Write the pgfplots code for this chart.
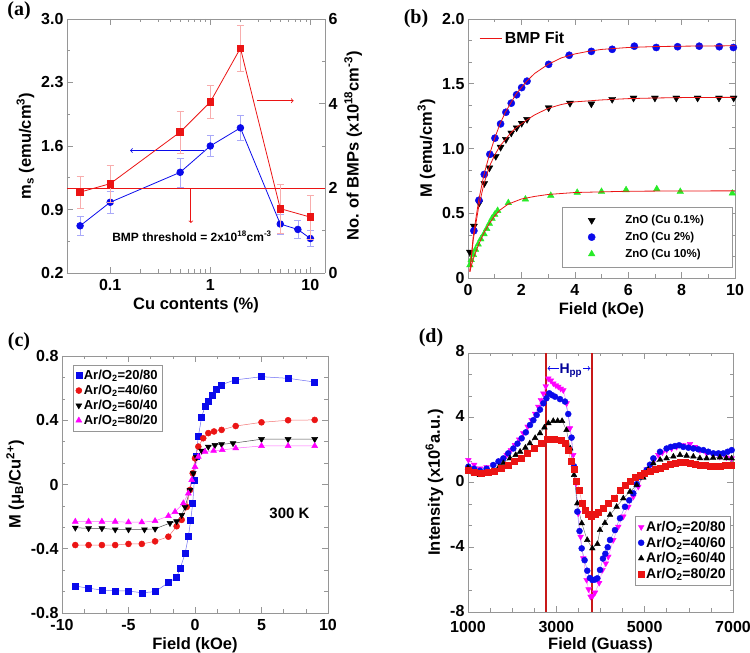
\documentclass[border=0pt]{standalone}
\usepackage{fontspec}
\setmainfont{Liberation Sans}
\newfontfamily\panelfont{Liberation Serif}
\usepackage{pgfplots}
\pgfplotsset{compat=1.18}
\definecolor{fgray}{RGB}{150,150,150}
\definecolor{cblue}{RGB}{10,10,235}
\definecolor{cred}{RGB}{235,20,20}
\definecolor{cgreen}{RGB}{40,235,40}
\definecolor{cmag}{RGB}{255,0,255}
\definecolor{dred}{RGB}{200,25,25}
\newcommand{\tfont}{\fontsize{16}{16}\selectfont\bfseries}
\newcommand{\lfont}{\fontsize{16.5}{19}\selectfont\bfseries}
\pgfplotsset{
  panel/.style={
    scale only axis, anchor=south west,
    axis line style={fgray, line width=0.8pt},
    every tick/.style={fgray, line width=0.6pt},
    tick align=inside,
    major tick length=6pt, minor tick length=3.5pt,
    tick label style={font=\tfont, black},
    xticklabel style={yshift=-2.5pt},
    label style={font=\lfont},
    legend cell align=left,
    legend image code/.code={\draw[only marks,mark repeat=2,mark phase=2,##1] plot coordinates {(0cm,0cm) (0.15cm,0cm) (0.3cm,0cm)};},
  }
}
\begin{document}
\begin{tikzpicture}

% ---------------- (a) ----------------
\begin{axis}[panel, at={(67pt,380pt)}, width=258pt, height=254pt,
  xmode=log, xmin=0.037, xmax=14, ymin=0.2, ymax=3.0,
  axis y line*=left, y axis line style={-},
  xtick={0.1,1,10}, xticklabels={0.1,1,10},
  ytick={0.2,0.9,1.6,2.3,3.0}, yticklabels={0.2,0.9,1.6,2.3,3.0},
  minor ytick={0.55,1.25,1.95,2.65},
  xlabel={Cu contents (\%)},
  ylabel={m\textsubscript{s} (emu/cm\textsuperscript{3})},
]
\addplot[cblue, line width=0.8pt, mark=*, mark size=3.3pt, mark options={solid, fill=cblue},
  error bars/.cd, y dir=both, y explicit,
  error bar style={cblue!35, line width=0.6pt},
  error mark options={rotate=90, mark size=3.5pt, cblue!35}]
coordinates {
(0.05,0.72) +- (0,0.107)
(0.1,0.98) +- (0,0.12)
(0.5,1.31) +- (0,0.16)
(1,1.60) +- (0,0.115)
(2,1.80) +- (0,0.14)
(5,0.74) +- (0,0.11)
(7.5,0.68) +- (0,0.10)
(10,0.58) +- (0,0.09)
};
\draw[->, cblue, line width=0.8pt] (axis cs:0.86,1.55) -- (axis cs:0.158,1.55);
\end{axis}
\begin{axis}[panel, at={(67pt,380pt)}, width=258pt, height=254pt,
  xmode=log, xmin=0.037, xmax=14, ymin=0, ymax=6,
  axis y line*=right, y axis line style={-}, axis x line=none,
  ytick={0,2,4,6}, yticklabels={0,2,4,6}, minor ytick={1,3,5},
  ylabel={No. of BMPs (x10\textsuperscript{18}cm\textsuperscript{-3})},
]
\addplot[cred, line width=1pt, forget plot] coordinates {(0.037,2) (14,2)};
\addplot[cred, line width=0.8pt, mark=square*, mark size=3.3pt, mark options={solid, fill=cred},
  error bars/.cd, y dir=both, y explicit,
  error bar style={cred!35, line width=0.6pt},
  error mark options={rotate=90, mark size=3.5pt, cred!35}]
coordinates {
(0.05,1.91) +- (0,0.37)
(0.1,2.11) +- (0,0.43)
(0.5,3.33) +- (0,0.49)
(1,4.04) +- (0,0.39)
(2,5.31) +- (0,0.54)
(5,1.52) +- (0,0.58)
(10,1.32) +- (0,0.52)
};
\draw[->, cred, line width=0.8pt] (axis cs:2.93,4.07) -- (axis cs:6.8,4.07);
\draw[->, cred, line width=0.8pt] (axis cs:0.64,2) -- (axis cs:0.64,1.18);
\node[font=\fontsize{12}{12}\selectfont\bfseries] at (axis cs:0.656,0.865) {BMP threshold = 2x10\textsuperscript{18}cm\textsuperscript{-3}};
\end{axis}

% ---------------- (b) ----------------
\begin{axis}[panel, at={(468pt,375pt)}, width=267pt, height=259pt,
  xmin=0, xmax=10, ymin=0, ymax=2,
  xtick={0,2,4,6,8,10}, xticklabels={0,2,4,6,8,10},
  ytick={0,0.5,1,1.5,2}, yticklabels={0,0.5,1.0,1.5,2.0},
  minor x tick num=1, minor y tick num=2,
  xlabel={Field (kOe)}, ylabel={M (emu/cm\textsuperscript{3})},
  legend style={at={(0.989,0.042)}, anchor=south east, draw=fgray,
    font=\fontsize{11.5}{13}\selectfont\bfseries, inner xsep=26pt, inner ysep=6pt,
    row sep=3pt,
    /tikz/every odd column/.style={column sep=28pt}},
]
\addplot[only marks, mark=triangle*, mark size=4pt, mark options={rotate=180, fill=black}, black] coordinates {
(0.07,0.2) (0.22,0.40) (0.42,0.58) (0.61,0.73) (0.8,0.85) (1.04,0.94) (1.22,1.01) (1.42,1.07)
(1.62,1.12) (1.82,1.16) (2.01,1.195) (2.21,1.225) (3.02,1.315) (3.82,1.35) (4.62,1.345)
(5.4,1.38) (6.2,1.39) (7.0,1.39) (7.8,1.39) (8.6,1.39) (9.4,1.39) (9.95,1.39)
};
\addlegendentry{ZnO (Cu 0.1\%)}
\addplot[only marks, mark=*, mark size=3.6pt, cblue, mark options={fill=cblue}] coordinates {
(0.22,0.365) (0.41,0.60) (0.61,0.80) (0.82,0.955) (1.01,1.08) (1.22,1.19) (1.42,1.28)
(1.62,1.35) (1.82,1.415) (2.01,1.47) (2.21,1.52) (3.02,1.65) (3.79,1.72) (4.62,1.75)
(5.40,1.766) (6.23,1.79) (7.05,1.78) (7.85,1.786) (8.66,1.79) (9.41,1.786) (9.94,1.78)
};
\addlegendentry{ZnO (Cu 2\%)}
\addplot[only marks, mark=triangle*, mark size=3.8pt, cgreen, mark options={fill=cgreen}] coordinates {
(0.07,0.10) (0.12,0.14) (0.2,0.18) (0.28,0.22) (0.38,0.26) (0.48,0.30) (0.6,0.34) (0.7,0.38)
(0.8,0.42) (0.9,0.46) (1.0,0.49) (1.11,0.52) (1.51,0.58) (2.15,0.608) (3.1,0.636) (4.09,0.66)
(5.0,0.667) (5.92,0.68) (7.07,0.687) (7.95,0.667) (9.9,0.654)
};
\addlegendentry{ZnO (Cu 10\%)}
\end{axis}
\begin{axis}[panel, at={(468pt,375pt)}, width=267pt, height=259pt,
  xmin=0, xmax=10, ymin=0, ymax=2, hide axis,
  legend style={at={(0.03,0.965)}, anchor=north west, draw=none, fill=none,
    font=\fontsize{16}{16}\selectfont\bfseries},
  legend image code/.code={\draw[#1] (0cm,0cm) -- (0.8cm,0cm);},
]
\addplot[cred, line width=0.8pt] coordinates {
(0.07,0.05) (0.2,0.33) (0.4,0.6) (0.6,0.8) (0.8,0.95) (1.0,1.08) (1.2,1.19) (1.4,1.28) (1.6,1.35)
(1.8,1.42) (2.0,1.47) (2.2,1.52) (2.5,1.58) (3,1.65) (3.5,1.70) (4,1.73) (4.5,1.75) (5,1.765)
(6,1.78) (7,1.787) (8,1.79) (9,1.792) (10,1.793)
};
\addlegendentry{BMP Fit}
\addplot[cred, line width=0.8pt, forget plot] coordinates {
(0.07,0.05) (0.2,0.3) (0.4,0.55) (0.6,0.73) (0.8,0.86) (1.0,0.95) (1.2,1.02) (1.4,1.07) (1.6,1.12)
(1.8,1.16) (2.0,1.19) (2.2,1.22) (2.5,1.26) (3,1.31) (3.5,1.34) (4,1.36) (5,1.375) (6,1.385)
(7,1.39) (8,1.393) (10,1.395)
};
\addplot[cred, line width=0.8pt, forget plot] coordinates {
(0.07,0.05) (0.2,0.15) (0.4,0.26) (0.6,0.35) (0.8,0.42) (1.0,0.48) (1.2,0.525) (1.5,0.57)
(2.0,0.61) (2.5,0.63) (3,0.645) (4,0.66) (5,0.665) (6,0.67) (8,0.672) (10,0.673)
};
\end{axis}

% ---------------- (c) ----------------
\begin{axis}[panel, at={(62pt,40pt)}, width=266pt, height=257pt,
  xmin=-10, xmax=10, ymin=-0.8, ymax=0.8,
  xtick={-10,-5,0,5,10}, xticklabels={-10,-5,0,5,10},
  ytick={-0.8,-0.4,0,0.4,0.8}, yticklabels={-0.8,-0.4,0,0.4,0.8},
  minor x tick num=2, minor y tick num=2,
  xlabel={Field (kOe)}, ylabel={M (μ\textsubscript{B}/Cu\textsuperscript{2+})},
  legend style={at={(0.04,0.965)}, anchor=north west, draw=fgray,
    font=\fontsize{13}{14}\selectfont\bfseries, inner sep=3pt},
]
\addplot[cblue!60, line width=0.5pt, mark=square*, mark size=3pt, mark options={cblue, fill=cblue}] coordinates {
(-9,-0.632) (-8,-0.646) (-7,-0.657) (-6,-0.663) (-5,-0.663) (-4,-0.674) (-3,-0.667) (-2,-0.611)
(-1.4,-0.58) (-1.1,-0.52) (-0.75,-0.43) (-0.5,-0.325) (-0.32,-0.22) (-0.17,-0.117) (-0.05,0.028)
(0.075,0.173) (0.25,0.298) (0.5,0.42) (0.75,0.485) (1.0,0.52) (1.26,0.557) (1.63,0.595) (1.95,0.62)
(3,0.651) (5,0.671) (7,0.661) (9,0.638)
};
\addlegendentry{Ar/O\textsubscript{2}=20/80}
\addplot[cred!60, line width=0.5pt, mark=*, mark size=3pt, mark options={cred, fill=cred}] coordinates {
(-9,-0.377) (-8,-0.377) (-7,-0.377) (-6,-0.377) (-5,-0.37) (-4,-0.37) (-3,-0.354) (-2,-0.325)
(-1.38,-0.26) (-1.0,-0.22) (-0.62,-0.14) (-0.38,-0.034) (-0.17,0.07) (0,0.163) (0.25,0.236)
(0.62,0.288) (1.0,0.32) (1.43,0.33) (2.0,0.34) (3.06,0.364) (5,0.387) (7,0.4) (9,0.402)
};
\addlegendentry{Ar/O\textsubscript{2}=40/60}
\addplot[black!70, line width=0.5pt, mark=triangle*, mark size=3.4pt, mark options={rotate=180, black, fill=black}] coordinates {
(-9,-0.269) (-8,-0.273) (-7,-0.273) (-6,-0.28) (-5,-0.28) (-3.8,-0.28) (-3,-0.276) (-1.88,-0.24)
(-1.38,-0.23) (-1.0,-0.19) (-0.75,-0.14) (-0.38,-0.034) (-0.13,0.07) (0.12,0.17) (0.5,0.21)
(1.0,0.235) (1.5,0.245) (2.0,0.25) (2.86,0.257) (5,0.282) (7,0.282) (9,0.282)
};
\addlegendentry{Ar/O\textsubscript{2}=60/40}
\addplot[cmag!60, line width=0.5pt, mark=triangle*, mark size=3.4pt, mark options={cmag, fill=cmag}] coordinates {
(-9,-0.231) (-8,-0.231) (-7,-0.231) (-6,-0.231) (-5,-0.235) (-4,-0.235) (-3,-0.227) (-2,-0.196)
(-1.5,-0.17) (-0.88,-0.117) (-0.5,-0.055) (-0.25,0.028) (0,0.11) (0.25,0.173) (0.75,0.204)
(1.4,0.21) (2.05,0.215) (3.06,0.226) (5,0.24) (7,0.24) (9,0.24)
};
\addlegendentry{Ar/O\textsubscript{2}=80/20}
\node[font=\fontsize{15}{15}\selectfont\bfseries] at (axis cs:7.1,-0.18) {300 K};
\end{axis}

% ---------------- (d) ----------------
\begin{axis}[panel, at={(468pt,41pt)}, width=265pt, height=259pt,
  xmin=1000, xmax=7000, ymin=-8, ymax=8,
  xtick={1000,3000,5000,7000}, xticklabels={1000,3000,5000,7000},
  xticklabel style={yshift=-3.5pt},
  yticklabel style={yshift=1.5pt},
  ytick={-8,-4,0,4,8}, yticklabels={-8,-4,0,4,8},
  minor x tick num=3, minor y tick num=2,
  xlabel={Field (Guass)}, ylabel={Intensity (x10\textsuperscript{6}a.u.)},
  xlabel style={yshift=2pt},
  legend style={at={(0.992,0.104)}, anchor=south east, draw=fgray,
    font=\fontsize{14}{15}\selectfont\bfseries, inner sep=3pt},
]
\addplot[cmag!50, line width=0.4pt, mark=triangle*, mark size=3.3pt, mark options={rotate=180, cmag, fill=cmag}] coordinates {
(1008,1.39) (1140,1.1) (1272,0.87) (1420,0.95) (1573,1.08) (1720,1.35) (1875,1.7) (1970,2.0)
(2064,2.31) (2160,2.65) (2253,3.04) (2350,3.45) (2441,3.86) (2520,4.25) (2592,4.68) (2650,5.1)
(2706,5.5) (2760,5.95) (2819,6.43) (2876,6.3) (2933,6.12) (2990,6.0) (3045,5.92) (3100,5.8)
(3158,5.7) (3233,4.89) (3308,3.35) (3383,1.7) (3445,-0.05) (3496,-1.9) (3550,-3.35) (3610,-4.68)
(3685,-6.02) (3730,-6.6) (3775,-7.05) (3825,-7.0) (3875,-6.8) (3970,-6.2) (4045,-5.4) (4120,-5.0)
(4177,-4.58) (4290,-3.55) (4403,-2.73) (4516,-2.1) (4630,-1.5) (4743,-0.88) (4856,-0.26) (4970,0.46)
(5045,0.8) (5120,1.08) (5215,1.4) (5309,1.7) (5400,1.85) (5497,2.0) (5610,2.1) (5723,2.2)
(5870,2.3) (6026,2.38) (6140,2.2) (6252,2.0) (6400,1.8) (6550,1.7) (6700,1.6) (6850,1.55) (6970,1.49)
};
\addlegendentry{Ar/O\textsubscript{2}=20/80}
\addplot[cblue!50, line width=0.4pt, mark=*, mark size=3pt, mark options={cblue, fill=cblue}] coordinates {
(1008,0.98) (1140,0.85) (1272,0.73) (1420,0.85) (1573,1.08) (1690,1.3) (1800,1.49) (1910,1.8)
(2026,2.1) (2120,2.4) (2215,2.73) (2310,3.1) (2404,3.55) (2480,3.85) (2555,4.17) (2630,4.5)
(2706,4.89) (2775,5.2) (2841,5.51) (2900,5.4) (2970,5.3) (3083,5.15) (3196,5.0) (3270,4.23)
(3345,2.77) (3400,1.0) (3475,-1.8) (3525,-3.0) (3574,-4.07) (3640,-4.8) (3700,-5.45) (3760,-5.9)
(3815,-6.02) (3870,-6.0) (3928,-5.92) (3988,-5.4) (4055,-4.7) (4110,-4.4) (4163,-4.0) (4215,-3.55)
(4327,-2.94) (4441,-2.21) (4554,-1.5) (4650,-1.1) (4743,-0.67) (4820,-0.1) (4894,0.36) (5045,0.77)
(5120,1.1) (5196,1.49) (5347,1.9) (5497,2.1) (5590,2.2) (5686,2.25) (5780,2.3) (5875,2.2)
(5990,2.15) (6102,2.1) (6215,2.05) (6328,2.0) (6440,1.9) (6554,1.8) (6670,1.8) (6781,1.8)
(6880,1.9) (6970,2.0)
};
\addlegendentry{Ar/O\textsubscript{2}=40/60}
\addplot[black!60, line width=0.4pt, mark=triangle*, mark size=3.3pt, mark options={black, fill=black}] coordinates {
(1000,0.9) (1130,0.6) (1270,0.46) (1400,0.55) (1550,0.7) (1700,0.95) (1800,1.2) (1950,1.49)
(2080,1.7) (2180,1.9) (2300,2.15) (2400,2.42) (2520,2.75) (2630,3.04) (2730,3.4) (2820,3.66)
(2930,3.8) (3030,3.8) (3130,3.8) (3230,3.24) (3315,2.1) (3400,0.46) (3475,-1.29) (3575,-2.52)
(3700,-3.55) (3815,-4.07) (3930,-3.8) (3988,-2.94) (4100,-2.5) (4215,-2.0) (4365,-1.5) (4516,-0.98)
(4668,-0.57) (4818,-0.16) (4970,0.3) (5080,0.8) (5196,1.18) (5350,1.4) (5497,1.49) (5650,1.6)
(5800,1.7) (5950,1.65) (6102,1.6) (6250,1.5) (6403,1.49) (6550,1.52) (6705,1.55) (6850,1.5) (6970,1.49)
};
\addlegendentry{Ar/O\textsubscript{2}=60/40}
\addplot[cred!50, line width=0.4pt, mark=square*, mark size=3pt, mark options={cred, fill=cred}] coordinates {
(1000,0.77) (1150,0.65) (1300,0.57) (1450,0.62) (1600,0.72) (1750,0.88) (1900,1.08) (2050,1.3)
(2200,1.52) (2350,1.8) (2500,2.1) (2650,2.42) (2800,2.67) (2950,2.67) (3100,2.62) (3200,2.45)
(3270,2.0) (3330,1.3) (3400,0.8) (3460,0.1) (3520,-0.5) (3580,-1.25) (3650,-1.7) (3720,-1.95)
(3800,-2.07) (3880,-1.98) (3950,-1.85) (4060,-1.6) (4180,-1.29) (4300,-0.95) (4440,-0.5) (4560,-0.15)
(4670,0.09) (4780,0.3) (4900,0.46) (5000,0.6) (5120,0.71) (5230,0.8) (5350,0.91) (5460,1.03)
(5570,1.14) (5690,1.2) (5800,1.28) (5910,1.25) (6030,1.18) (6140,1.12) (6250,1.08) (6360,1.05)
(6480,1.02) (6600,1.02) (6700,1.02) (6830,1.05) (6970,1.08)
};
\addlegendentry{Ar/O\textsubscript{2}=80/20}
\addplot[dred, line width=2pt, forget plot] coordinates {(2770,-8) (2770,8)};
\addplot[dred, line width=2pt, forget plot] coordinates {(3800,-8) (3800,8)};
\draw[<->, cblue, line width=0.8pt] (axis cs:2800,7.05) -- (axis cs:3770,7.05);
\node[fill=white, inner sep=1pt, text=blue!60!black, font=\fontsize{14}{14}\selectfont\bfseries] at (axis cs:3330,6.9) {H\textsubscript{pp}};
\end{axis}

% panel labels
\node[font=\panelfont\bfseries\fontsize{20}{20}\selectfont] at (19pt,642pt) {(a)};
\node[font=\panelfont\bfseries\fontsize{20}{20}\selectfont] at (416pt,634pt) {(b)};
\node[font=\panelfont\bfseries\fontsize{20}{20}\selectfont] at (19pt,311pt) {(c)};
\node[font=\panelfont\bfseries\fontsize{20}{20}\selectfont] at (431pt,315pt) {(d)};
\pgfresetboundingbox
\path[use as bounding box] (0pt,0pt) rectangle (750pt,653pt);
\end{tikzpicture}
\end{document}
